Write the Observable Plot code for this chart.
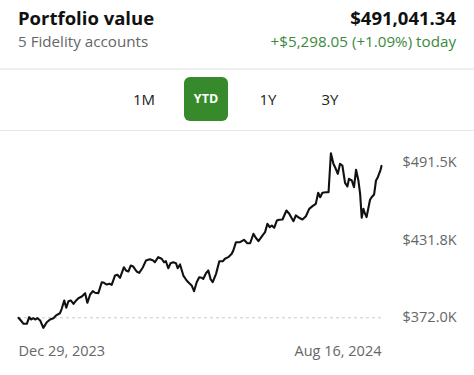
<!DOCTYPE html>
<html>
<head>
<meta charset="utf-8">
<script src="https://cdn.jsdelivr.net/npm/d3@7"></script>
<script src="https://cdn.jsdelivr.net/npm/@observablehq/plot@0.6"></script>
<style>
  html, body { margin: 0; padding: 0; background: #fff; }
  body { width: 474px; height: 375px; overflow: hidden; font-family: "Open Sans", sans-serif; position: relative; }
  .hdr { position: absolute; left: 0; top: 0; width: 474px; height: 68px; }
  .title { position: absolute; left: 18px; top: 5px; font-size: 18.5px; font-weight: 700; color: #111; }
  .sub { position: absolute; left: 18px; top: 31px; font-size: 15.2px; color: #666; }
  .total { position: absolute; right: 18px; top: 5px; font-size: 18.5px; font-weight: 700; color: #111; }
  .chg { position: absolute; right: 18px; top: 31px; font-size: 15.2px; color: #3b8a3b; }
  .sep1 { position: absolute; left: 0; top: 68px; width: 474px; height: 2px; background: #efefef; }
  .sep2 { position: absolute; left: 0; top: 130px; width: 474px; height: 1px; background: #e8e8e8; }
  .btn { position: absolute; top: 77px; height: 44px; line-height: 44px; font-size: 15px; color: #222; text-align: center; width: 44px; }
  .btn.on { background: #378a2b; color: #fff; font-weight: 700; font-size: 12.5px; border-radius: 6px; }
  #chart { position: absolute; left: 0; top: 131px; }
</style>
</head>
<body>
<div class="hdr">
  <div class="title">Portfolio value</div>
  <div class="sub">5 Fidelity accounts</div>
  <div class="total">$491,041.34</div>
  <div class="chg">+$5,298.05 (+1.09%) today</div>
</div>
<div class="sep1"></div>
<div class="btn" style="left:122px">1M</div>
<div class="btn on" style="left:184px">YTD</div>
<div class="btn" style="left:246px">1Y</div>
<div class="btn" style="left:308px">3Y</div>
<div class="sep2"></div>
<div id="chart"></div>
<script>
// Days since Dec 29, 2023
const days = [0,1.5,3.2,5.3,6.8,7.9,9.5,10.6,12.1,13.8,15.8,18.0,20.1,22.2,23.9,26.4,27.5,29.1,30.4,31.8,33.3,35.0,36.7,38.1,40.3,42.4,43.8,45.6,47.3,48.7,50.8,53.0,54.4,56.1,57.8,59.3,61.4,62.9,64.6,67.1,68.4,69.9,71.4,73.0,75.2,76.8,79.0,81.1,83.6,85.7,86.8,88.9,91.1,92.6,93.8,95.3,96.8,98.5,100.2,101.3,102.8,104.9,107.0,108.7,110.2,111.7,113.4,115.0,116.6,117.6,119.3,120.8,122.3,123.6,125.7,127.8,130.0,131.4,133.5,135.7,136.7,138.4,141.0,143.5,145.6,147.4,149.5,151.0,152.7,155.2,156.9,158.4,159.9,161.2,162.7,164.4,165.9,168.0,170.5,172.3,173.7,175.0,176.5,178.6,180.7,182.9,185.0,187.1,189.2,190.7,192.0,193.4,195.6,197.3,198.8,200.4,201.9,203.2,204.6,206.1,207.8,209.3,210.3,212.1,213.5,214.8,216.3,217.4,218.4,219.5,220.1,221.5,223.7,224.7,226.3,227.5,228.5,230.4,231];
// Portfolio value, $K
const values = [372.0,369.9,367.4,367.4,372.5,370.7,371.7,370.7,371.7,369.9,364.3,368.6,370.7,371.7,373.8,375.5,378.9,385.3,379.7,384.7,385.3,382.7,385.3,387.0,388.3,390.9,383.5,389.9,392.4,391.2,390.9,399.3,398.8,397.5,398.1,397.3,404.4,405.0,402.7,410.8,408.3,407.5,412.1,411.3,407.5,406.5,410.4,415.9,416.9,415.9,414.6,418.5,417.3,414.6,415.4,410.0,413.9,414.6,413.9,410.0,412.9,404.4,400.6,398.5,396.8,392.4,399.3,403.1,402.7,401.9,406.2,408.3,401.4,399.3,405.7,415.4,415.4,417.3,418.5,421.1,423.6,430.0,430.0,431.8,429.2,429.2,436.4,433.4,430.8,435.1,437.7,444.1,441.5,442.8,441.0,446.6,447.2,447.4,454.3,451.8,448.7,446.1,450.5,448.7,447.4,449.9,455.6,457.6,459.4,467.9,464.5,467.9,468.3,468.3,498.2,490.1,486.3,482.4,490.1,488.8,475.5,472.7,478.6,477.3,472.2,485.5,477.3,467.1,448.7,455.6,453.0,449.2,462.5,464.5,466.6,477.3,479.4,485.5,488.5,491.0];
const startValue = 372.0;
const yTicks = [372.0, 431.75, 491.5];
const dateLabels = ["2023-12-29", "2024-08-16"];

const start = new Date(Date.UTC(2023, 11, 29));
const data = days.map((d, i) => ({date: new Date(+start + d * 86400000), value: values[i]}));
const d0 = new Date(dateLabels[0] + "T00:00:00Z");
const d1 = new Date(dateLabels[1] + "T00:00:00Z");
const fmtDate = d3.utcFormat("%b %-d, %Y");

const chart = Plot.plot({
  width: 474,
  height: 244,
  marginLeft: 18,
  marginRight: 93,
  marginTop: 30.5,
  marginBottom: 57.7,
  style: {fontFamily: "Open Sans, sans-serif", background: "transparent"},
  x: {type: "utc", domain: [d0, d1], axis: null},
  y: {domain: [372.0, 491.5], axis: null},
  marks: [
    Plot.ruleY([startValue], {stroke: "#c8c8c8", strokeDasharray: "3,3", strokeWidth: 1}),
    Plot.line(data, {x: "date", y: "value", stroke: "#111", strokeWidth: 2.1, strokeLinejoin: "round"}),
    Plot.axisY(yTicks, {anchor: "right", label: null, tickSize: 0, tickPadding: 21, textAnchor: "start",
      tickFormat: v => "$" + d3.format(".1f")(v) + "K", fontSize: 14.5, fill: "#666"}),
    Plot.axisX([d0], {anchor: "bottom", label: null, tickSize: 0, tickPadding: 28, textAnchor: "start",
      tickFormat: fmtDate, fontSize: 14.5, fill: "#666"}),
    Plot.axisX([d1], {anchor: "bottom", label: null, tickSize: 0, tickPadding: 28, textAnchor: "end",
      tickFormat: fmtDate, fontSize: 14.5, fill: "#666"})
  ]
});
document.getElementById("chart").appendChild(chart);
</script>
</body>
</html>
